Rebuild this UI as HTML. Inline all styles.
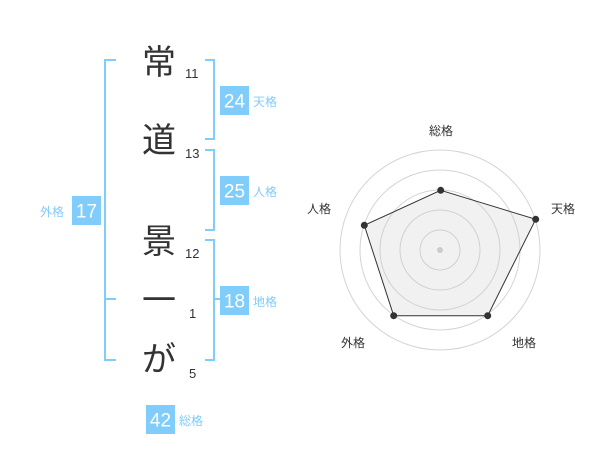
<!DOCTYPE html>
<html><head><meta charset="utf-8"><style>
html,body{margin:0;padding:0;background:#fff;}
svg{display:block;}
text{font-family:"Liberation Sans","Noto Sans CJK JP",sans-serif;}
</style></head><body>
<svg width="600" height="470" viewBox="0 0 600 470">
<g stroke="#80ccfa" stroke-width="2" fill="none">
<path d="M116 60 H105 V360 H116 M105 299 H116"/>
<path d="M205 60 H214 V139 H205"/>
<path d="M205 150 H214 V230 H205"/>
<path d="M205 240 H214 V360 H205 M214 299 H222"/>
</g>
<g fill="#333" font-size="34" text-anchor="middle">
<text x="159" y="74">常</text>
<text x="159" y="152">道</text>
<text x="159" y="253">景</text>
<text x="159" y="312">一</text>
<text x="159" y="371">が</text>
</g>
<g fill="#333" font-size="13">
<text x="185" y="78">11</text>
<text x="185" y="158">13</text>
<text x="185" y="258">12</text>
<text x="189" y="318">1</text>
<text x="189" y="378">5</text>
</g>
<g fill="#80ccfa">
<rect x="220" y="86" width="29" height="29"/>
<rect x="220" y="176" width="29" height="29"/>
<rect x="220" y="286" width="29" height="29"/>
<rect x="72" y="196" width="29" height="29"/>
<rect x="146" y="405" width="29" height="29"/>
</g>
<g fill="#fff" font-size="19" text-anchor="middle">
<text x="234.5" y="107.5">24</text>
<text x="234.5" y="197.5">25</text>
<text x="234.5" y="307.5">18</text>
<text x="86.5" y="217.5">17</text>
<text x="160.5" y="426.5">42</text>
</g>
<g fill="#80ccfa" font-size="12">
<text x="253" y="106">天格</text>
<text x="253" y="196">人格</text>
<text x="253" y="306">地格</text>
<text x="40" y="216">外格</text>
<text x="179" y="425">総格</text>
</g>
<g fill="none" stroke="#d4d4d4" stroke-width="1">
<circle cx="440" cy="250" r="20"/>
<circle cx="440" cy="250" r="40"/>
<circle cx="440" cy="250" r="60"/>
<circle cx="440" cy="250" r="80"/>
<circle cx="440" cy="250" r="100"/>
</g>
<polygon points="440.7,190.3 535.7,219.3 487.7,315.7 393.7,315.7 364.3,225.3" fill="rgba(200,200,200,0.25)" stroke="#333" stroke-width="1"/>
<circle cx="440" cy="250" r="3" fill="#ccc"/>
<g fill="#333">
<circle cx="440.7" cy="190.3" r="3.5"/>
<circle cx="535.7" cy="219.3" r="3.5"/>
<circle cx="487.7" cy="315.7" r="3.5"/>
<circle cx="393.7" cy="315.7" r="3.5"/>
<circle cx="364.3" cy="225.3" r="3.5"/>
</g>
<g fill="#333" font-size="12" text-anchor="middle">
<text x="441" y="135">総格</text>
<text x="563" y="213">天格</text>
<text x="524" y="347">地格</text>
<text x="353" y="347">外格</text>
<text x="319" y="213">人格</text>
</g>
</svg>
</body></html>
